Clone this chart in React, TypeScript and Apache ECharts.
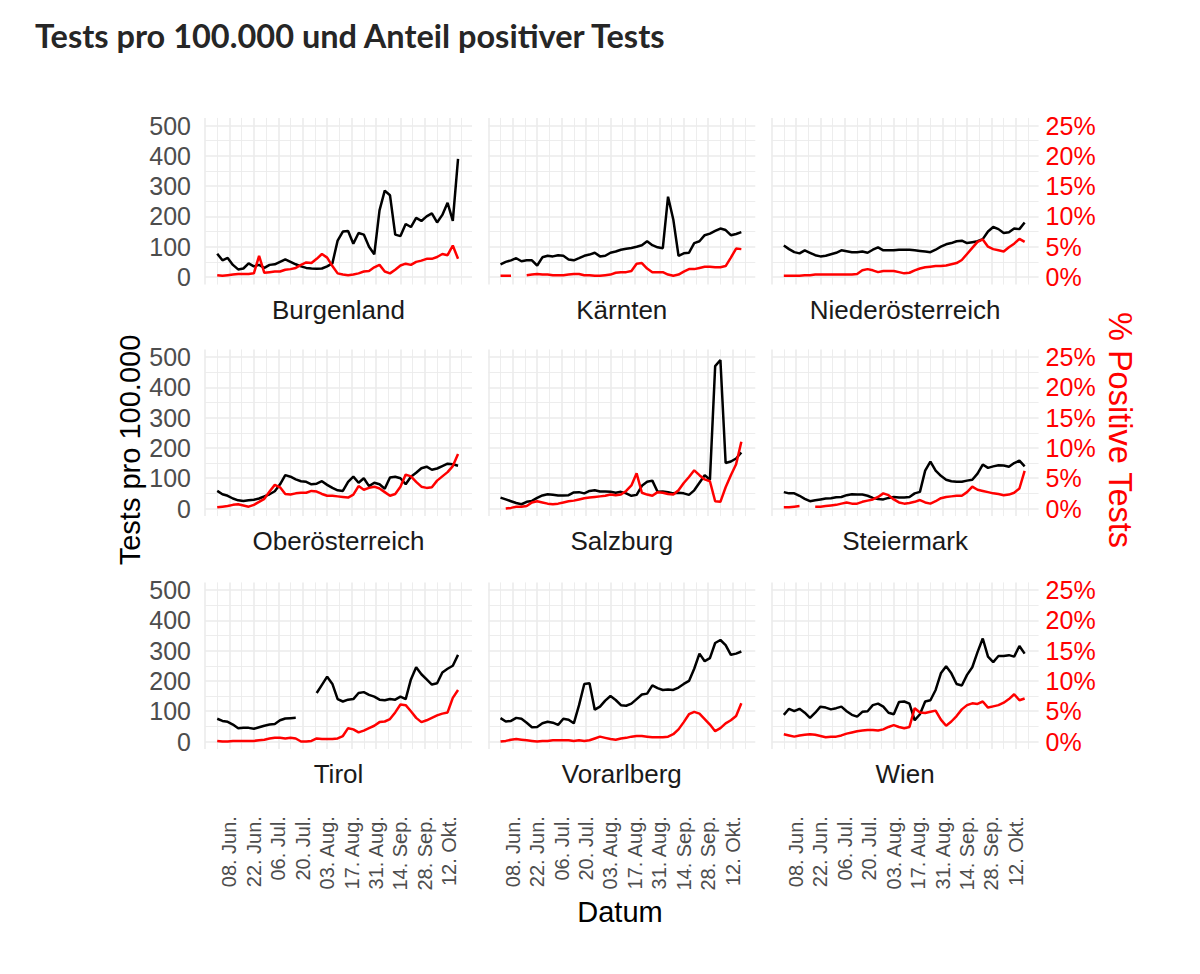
import React, { useEffect, useRef } from "react";
import * as echarts from "echarts";

// ---------- data ----------
// sampling: every 3 days starting 1 June 2020; x value = days relative to 8 June 2020
const firstDay = -7;
const stepDays = 3;
const nPoints = 47;

const xTickLabels = ["08. Jun.", "22. Jun.", "06. Jul.", "20. Jul.", "03. Aug.", "17. Aug.", "31. Aug.", "14. Sep.", "28. Sep.", "12. Okt."];
const leftTicks = [0, 100, 200, 300, 400, 500];
const rightTicks = [0, 5, 10, 15, 20, 25];

const regions = ["Burgenland", "Kärnten", "Niederösterreich", "Oberösterreich", "Salzburg", "Steiermark", "Tirol", "Vorarlberg", "Wien"];

const testsBurgenland = [77, 55, 63, 40, 25, 28, 45, 35, 40, 30, 40, 42, 50, 58, 50, 42, 35, 30, 28, 27, 28, 35, 45, 120, 150, 152, 110, 145, 140, 100, 75, 220, 285, 270, 140, 135, 175, 165, 195, 185, 200, 210, 180, 205, 245, 185, 390];
const posBurgenland = [0.3, 0.2, 0.3, 0.4, 0.5, 0.5, 0.5, 0.6, 3.5, 0.7, 0.8, 0.9, 0.9, 1.2, 1.3, 1.5, 2.0, 2.4, 2.3, 3.0, 3.8, 3.2, 1.8, 0.6, 0.4, 0.3, 0.4, 0.6, 0.9, 1.0, 1.6, 2.0, 0.9, 0.6, 1.2, 1.9, 2.2, 2.0, 2.5, 2.7, 3.0, 3.0, 3.3, 3.8, 3.6, 5.2, 3.0];

const testsKaernten = [42, 50, 55, 62, 52, 55, 55, 38, 65, 70, 68, 72, 70, 58, 55, 62, 70, 74, 80, 68, 70, 80, 84, 90, 93, 96, 100, 105, 118, 105, 98, 95, 265, 190, 70, 78, 80, 112, 118, 138, 143, 152, 160, 155, 138, 142, 148];
const posKaernten = [0.2, 0.2, 0.2, null, null, 0.3, 0.4, 0.5, 0.4, 0.4, 0.3, 0.3, 0.3, 0.4, 0.5, 0.5, 0.3, 0.3, 0.2, 0.2, 0.3, 0.4, 0.7, 0.8, 0.8, 1.0, 2.2, 2.3, 1.4, 0.8, 0.8, 0.8, 0.4, 0.2, 0.4, 0.9, 1.3, 1.3, 1.5, 1.7, 1.7, 1.6, 1.6, 1.8, 3.2, 4.7, 4.6];

const testsNiederoesterreich = [104, 92, 82, 78, 88, 80, 72, 68, 70, 75, 80, 88, 85, 82, 82, 84, 80, 90, 98, 88, 88, 88, 90, 90, 90, 88, 86, 84, 82, 90, 100, 108, 112, 118, 120, 112, 115, 118, 125, 150, 165, 158, 145, 148, 160, 158, 180];
const posNiederoesterreich = [0.2, 0.2, 0.2, 0.2, 0.3, 0.3, 0.4, 0.4, 0.4, 0.4, 0.4, 0.4, 0.4, 0.4, 0.5, 1.1, 1.3, 1.1, 0.8, 1.0, 1.0, 1.0, 0.8, 0.6, 0.7, 1.1, 1.4, 1.6, 1.7, 1.8, 1.8, 1.9, 2.1, 2.3, 2.8, 3.8, 4.8, 5.8, 6.2, 5.0, 4.6, 4.4, 4.2, 4.9, 5.5, 6.3, 5.8];

const testsOberoesterreich = [58, 47, 42, 33, 27, 25, 27, 29, 33, 40, 47, 57, 80, 110, 105, 96, 90, 88, 80, 82, 90, 78, 68, 60, 58, 88, 105, 85, 100, 74, 85, 80, 65, 102, 105, 100, 80, 105, 118, 133, 138, 128, 132, 140, 148, 146, 141];
const posOberoesterreich = [0.2, 0.3, 0.4, 0.6, 0.7, 0.5, 0.3, 0.6, 1.1, 1.6, 2.8, 3.9, 3.5, 2.4, 2.3, 2.5, 2.6, 2.6, 2.9, 2.8, 2.4, 2.1, 2.1, 2.0, 1.9, 1.8, 2.3, 3.7, 3.1, 3.4, 3.6, 3.3, 2.7, 2.1, 2.4, 3.6, 5.6, 5.3, 4.4, 3.6, 3.4, 3.5, 4.6, 5.3, 6.0, 7.0, 9.0];

const testsSalzburg = [36, 30, 24, 18, 14, 22, 25, 35, 43, 47, 45, 43, 43, 44, 53, 54, 50, 58, 60, 56, 56, 55, 52, 55, 50, 42, 45, 75, 88, 92, 55, 56, 54, 50, 52, 50, 45, 60, 85, 110, 95, 470, 490, 150, 155, 165, 185];
const posSalzburg = [null, 0.0, 0.1, 0.3, 0.3, 0.4, 1.0, 1.2, 1.0, 0.8, 0.7, 0.8, 1.0, 1.2, 1.3, 1.5, 1.7, 1.8, 1.9, 2.0, 2.1, 2.3, 2.2, 2.3, 2.9, 3.8, 5.8, 2.6, 2.3, 2.1, 2.7, 2.6, 2.4, 2.3, 3.0, 4.2, 5.2, 6.3, 5.5, 4.8, 4.5, 1.2, 1.1, 3.5, 5.5, 7.3, 11.0];

const testsSteiermark = [54, 50, 50, 42, 32, 24, 27, 30, 33, 34, 37, 38, 44, 47, 46, 46, 42, 35, 31, 30, 35, 38, 36, 36, 38, 50, 55, 125, 155, 125, 108, 95, 90, 88, 88, 92, 95, 115, 145, 134, 139, 143, 142, 138, 150, 158, 139];
const posSteiermark = [0.2, 0.2, 0.3, 0.4, null, null, 0.3, 0.3, 0.4, 0.5, 0.6, 0.8, 1.0, 0.8, 0.8, 1.1, 1.3, 1.5, 1.9, 2.5, 2.2, 1.5, 1.0, 0.8, 0.9, 1.1, 1.4, 1.0, 0.8, 1.2, 1.7, 1.9, 2.0, 2.1, 2.1, 2.7, 3.6, 3.1, 2.9, 2.7, 2.5, 2.4, 2.2, 2.3, 2.6, 3.3, 6.2];

const testsTirol = [75, 68, 65, 56, 44, 45, 45, 42, 47, 52, 56, 58, 70, 76, 77, 78, null, null, null, 160, 187, 214, 190, 140, 132, 138, 140, 160, 163, 154, 148, 138, 136, 140, 138, 148, 140, 205, 245, 222, 205, 188, 192, 228, 240, 250, 286];
const posTirol = [0.1, 0.0, 0.0, 0.1, 0.1, 0.1, 0.1, 0.1, 0.2, 0.3, 0.5, 0.6, 0.6, 0.5, 0.6, 0.5, 0.0, 0.0, 0.1, 0.5, 0.4, 0.4, 0.4, 0.5, 0.9, 2.2, 2.0, 1.5, 1.8, 2.2, 2.6, 3.2, 3.3, 3.7, 4.8, 6.1, 6.0, 5.0, 3.9, 3.2, 3.5, 3.9, 4.3, 4.6, 4.8, 7.2, 8.5];

const testsVorarlberg = [77, 66, 68, 78, 75, 62, 47, 48, 60, 65, 62, 55, 75, 72, 60, 120, 190, 192, 105, 115, 135, 150, 137, 120, 118, 125, 140, 155, 158, 185, 176, 170, 172, 170, 178, 190, 200, 240, 290, 265, 275, 325, 335, 318, 286, 290, 297];
const posVorarlberg = [0.0, 0.1, 0.3, 0.4, 0.3, 0.2, 0.1, 0.0, 0.1, 0.1, 0.2, 0.2, 0.2, 0.2, 0.1, 0.2, 0.1, 0.2, 0.5, 0.8, 0.6, 0.4, 0.3, 0.5, 0.6, 0.8, 0.9, 0.9, 0.8, 0.7, 0.7, 0.7, 0.8, 1.2, 2.0, 3.2, 4.5, 4.9, 4.6, 3.7, 2.8, 1.7, 2.2, 3.0, 3.5, 4.2, 6.3];

const testsWien = [88, 108, 100, 108, 95, 78, 95, 115, 112, 106, 110, 115, 100, 88, 82, 98, 100, 120, 125, 115, 95, 90, 130, 132, 125, 70, 90, 132, 136, 170, 225, 248, 225, 190, 185, 220, 245, 295, 340, 280, 262, 282, 282, 285, 280, 315, 290];
const posWien = [1.2, 1.0, 0.8, 1.0, 1.1, 1.2, 1.1, 0.9, 0.7, 0.8, 0.8, 1.0, 1.3, 1.5, 1.7, 1.8, 1.9, 1.9, 1.8, 2.0, 2.4, 2.7, 2.4, 2.2, 2.4, 5.5, 4.8, 4.7, 4.9, 5.1, 3.6, 2.6, 3.3, 4.2, 5.3, 6.0, 6.3, 6.2, 6.6, 5.6, 5.8, 6.0, 6.4, 7.0, 7.8, 6.8, 7.1];

const testsByRegion = [testsBurgenland, testsKaernten, testsNiederoesterreich, testsOberoesterreich, testsSalzburg, testsSteiermark, testsTirol, testsVorarlberg, testsWien];
const posByRegion = [posBurgenland, posKaernten, posNiederoesterreich, posOberoesterreich, posSalzburg, posSteiermark, posTirol, posVorarlberg, posWien];

// ---------- layout ----------
const colLeft = [205, 488.3, 771.6];
const panelW = 267;
const rowDataTop = [125.5, 357, 590];
const dataH = 151.5;
const expand = (dataH * 25) / 500;
const FONT = "'Liberation Sans', Arial, Helvetica, sans-serif";
const GRID_COLOR = "#ebebeb";
const TICK_SIZE = 25;
const STRIP_SIZE = 26;
const LINE_W = 2.5;

function buildOption() {
  const days = Array.from({ length: nPoints }, (_, k) => firstDay + k * stepDays);
  const grid: any[] = [];
  const xAxis: any[] = [];
  const yAxis: any[] = [];
  const series: any[] = [];
  const graphic: any[] = [];

  regions.forEach((name, i) => {
    const r = Math.floor(i / 3);
    const c = i % 3;
    // grid A: full panel (with ggplot expansion), holds data and vertical grid lines
    const gA = grid.length;
    grid.push({ left: colLeft[c], top: rowDataTop[r] - expand, width: panelW, height: dataH + 2 * expand, containLabel: false });
    const xA = xAxis.length;
    xAxis.push({
      gridIndex: gA,
      type: "value",
      min: -14,
      max: 139,
      interval: 14,
      axisLine: { show: false },
      axisTick: { show: false },
      splitLine: { show: true, showMaxLine: false, lineStyle: { color: GRID_COLOR, width: 1.6 } },
      minorTick: { show: false, splitNumber: 2 },
      minorSplitLine: { show: true, lineStyle: { color: GRID_COLOR, width: 0.9 } },
      axisLabel: {
        show: r === 2,
        rotate: 90,
        margin: 67,
        fontSize: 20,
        color: "#4d4d4d",
        fontFamily: FONT,
        formatter: (v: number) => {
          const idx = v / 14;
          return v >= 0 && Number.isInteger(idx) && idx < xTickLabels.length ? xTickLabels[idx] : "";
        },
      },
    });
    const yTests = yAxis.length;
    yAxis.push({ gridIndex: gA, type: "value", min: -25, max: 525, show: false });
    const yPos = yAxis.length;
    yAxis.push({ gridIndex: gA, type: "value", min: -1.25, max: 26.25, show: false });

    // grid B: data range only, horizontal grid lines and tick labels
    const gB = grid.length;
    grid.push({ left: colLeft[c], top: rowDataTop[r], width: panelW, height: dataH, containLabel: false });
    xAxis.push({ gridIndex: gB, type: "value", min: -14, max: 139, show: false });
    yAxis.push({
      gridIndex: gB,
      type: "value",
      position: "left",
      min: leftTicks[0],
      max: leftTicks[leftTicks.length - 1],
      interval: leftTicks[1] - leftTicks[0],
      axisLine: { show: false },
      axisTick: { show: false },
      splitLine: { show: true, lineStyle: { color: GRID_COLOR, width: 1.6 } },
      minorTick: { show: false, splitNumber: 2 },
      minorSplitLine: { show: true, lineStyle: { color: GRID_COLOR, width: 0.9 } },
      axisLabel: { show: c === 0, fontSize: TICK_SIZE, color: "#4d4d4d", margin: 14, fontFamily: FONT },
    });
    if (c === 2) {
      yAxis.push({
        gridIndex: gB,
        type: "value",
        position: "right",
        min: rightTicks[0],
        max: rightTicks[rightTicks.length - 1],
        interval: rightTicks[1] - rightTicks[0],
        axisLine: { show: false },
        axisTick: { show: false },
        splitLine: { show: false },
        axisLabel: { show: true, fontSize: TICK_SIZE, color: "#ff0000", margin: 7, fontFamily: FONT, formatter: "{value}%" },
      });
    }

    const tests = testsByRegion[i];
    const pos = posByRegion[i];
    series.push({
      type: "line",
      name: name + " Tests",
      xAxisIndex: xA,
      yAxisIndex: yTests,
      showSymbol: false,
      connectNulls: false,
      lineStyle: { color: "#000000", width: LINE_W },
      itemStyle: { color: "#000000" },
      data: days.map((d, k) => [d, tests[k] == null ? "-" : tests[k]]),
      z: 3,
    });
    series.push({
      type: "line",
      name: name + " Positiv",
      xAxisIndex: xA,
      yAxisIndex: yPos,
      showSymbol: false,
      connectNulls: false,
      lineStyle: { color: "#ff0000", width: LINE_W },
      itemStyle: { color: "#ff0000" },
      data: days.map((d, k) => [d, pos[k] == null ? "-" : pos[k]]),
      z: 4,
    });

    graphic.push({
      type: "text",
      x: colLeft[c] + panelW / 2,
      y: rowDataTop[r] + dataH + expand + 25,
      style: { text: name, fontSize: STRIP_SIZE, fontFamily: FONT, fill: "#1a1a1a", textAlign: "center", textVerticalAlign: "middle" },
    });
  });

  graphic.push({
    type: "text",
    x: 35,
    y: 35,
    style: {
      text: "Tests pro 100.000 und Anteil positiver Tests",
      fontSize: 32.5,
      fontWeight: "bold",
      fontFamily: "Lato, 'Open Sans', sans-serif",
      fill: "#262626",
      textAlign: "left",
      textVerticalAlign: "middle",
    },
  });
  graphic.push({
    type: "text",
    x: 130,
    y: 450,
    rotation: Math.PI / 2,
    style: { text: "Tests pro 100.000", fontSize: 29, fontFamily: FONT, fill: "#000000", textAlign: "center", textVerticalAlign: "middle" },
  });
  graphic.push({
    type: "text",
    x: 1120,
    y: 430,
    rotation: -Math.PI / 2,
    style: { text: "% Positive Tests", fontSize: 32.5, fontFamily: FONT, fill: "#ff0000", textAlign: "center", textVerticalAlign: "middle" },
  });
  graphic.push({
    type: "text",
    x: 620,
    y: 912,
    style: { text: "Datum", fontSize: 29, fontFamily: FONT, fill: "#000000", textAlign: "center", textVerticalAlign: "middle" },
  });

  return {
    animation: false,
    backgroundColor: "#ffffff",
    grid,
    xAxis,
    yAxis,
    series,
    graphic,
  };
}

export default function App() {
  const ref = useRef<HTMLDivElement>(null);
  useEffect(() => {
    if (!ref.current) return;
    const chart = echarts.init(ref.current, undefined, { renderer: "svg" });
    chart.setOption(buildOption() as any);
    return () => chart.dispose();
  }, []);
  return <div ref={ref} style={{ position: "absolute", left: 0, top: 0, width: 1200, height: 974, background: "#fff" }} />;
}
